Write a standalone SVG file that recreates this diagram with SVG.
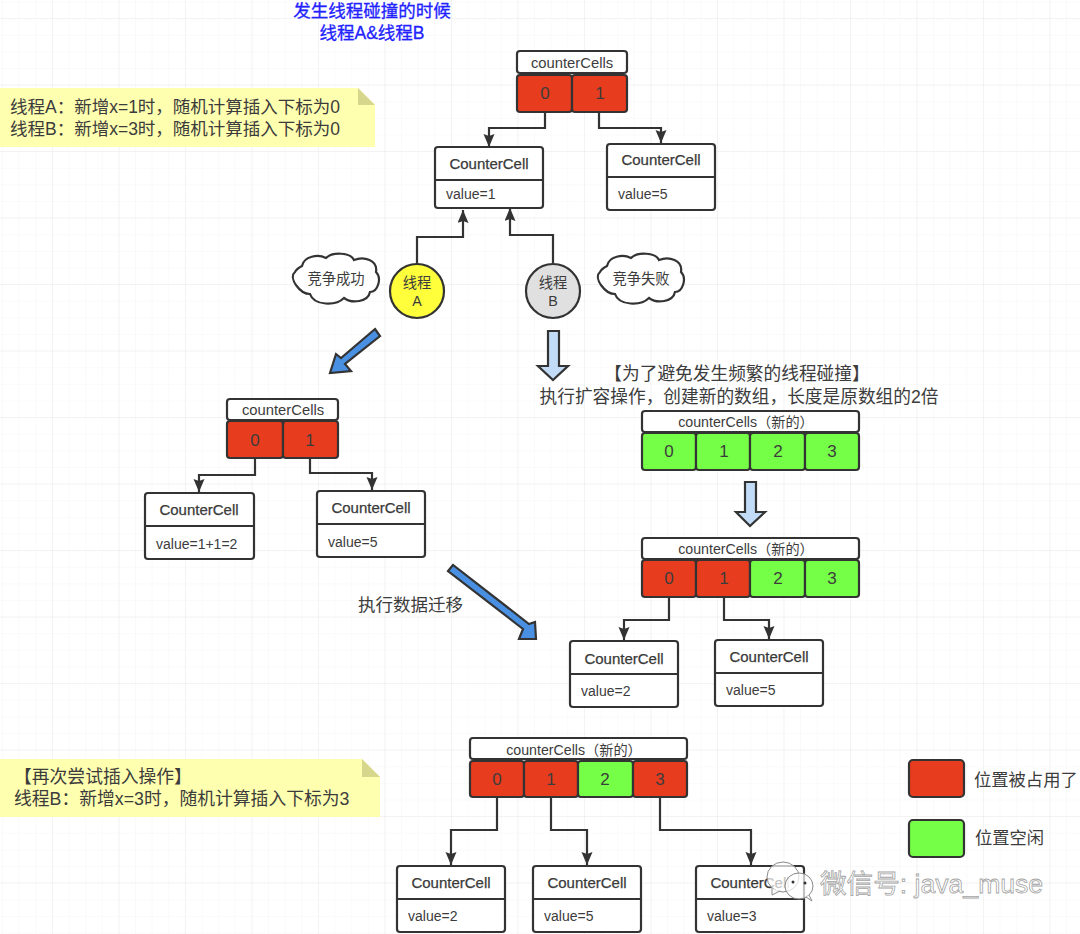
<svg xmlns="http://www.w3.org/2000/svg" width="1080" height="934" viewBox="0 0 1080 934">
<style>
text{font-family:"Liberation Sans","Noto Sans CJK SC",sans-serif;fill:#3c3c3c}
.t{text-anchor:middle}
.box{fill:#fff;stroke:#333;stroke-width:2.2}
.red{fill:#e83c1f;stroke:#333;stroke-width:2.2}
.grn{fill:#76ff47;stroke:#333;stroke-width:2.2}
.hdr{font-size:14.8px;text-anchor:middle}
.hdn{font-size:14.2px;text-anchor:middle}
.num{font-size:17px;text-anchor:middle}
.cc{font-size:15px;text-anchor:middle;stroke:#333;stroke-width:.25}
.val{font-size:14px}
.conn{fill:none;stroke:#333;stroke-width:2.2;marker-end:url(#ah)}
.note{fill:#ffffb0}
.fold{fill:#d6d68c}
.nt{font-size:17.5px}
.nt2{font-size:17.8px}
.big{font-size:17.7px}
.lite{fill:#c2dcf7;stroke:#333;stroke-width:2.2}
.blue{fill:#4a90e2;stroke:#333;stroke-width:2.2}
.cloud{fill:#fff;stroke:#333;stroke-width:2.2}
.wm{font-size:26.6px;fill:#fff;fill-opacity:.75;stroke:#8a8a8a;stroke-width:.8;stroke-opacity:.8}
.wi{fill:#fff;fill-opacity:.7;stroke:#8a8a8a;stroke-width:1}
</style>
<defs>
<pattern id="g1" width="16.625" height="16.625" patternUnits="userSpaceOnUse" x="3" y="2.5"><path d="M16.625 0V16.625M0 16.625H16.625" fill="none" stroke="#f5f5f5" stroke-width="1"/></pattern>
<pattern id="g2" width="66.5" height="66.5" patternUnits="userSpaceOnUse" x="-13.5" y="-47.5"><path d="M66.5 0V66.5M0 66.5H66.5" fill="none" stroke="#ececec" stroke-width="1"/></pattern>
<marker id="ah" markerUnits="userSpaceOnUse" markerWidth="14" markerHeight="12" refX="13" refY="5.5" orient="auto"><path d="M0 0L13 5.5L0 11L2 5.5Z" fill="#333"/></marker>
<path id="cl" d="M10 14C12 4 26 2 34 6C40 0 58 0 62 8C72 4 86 8 84 20C90 26 86 40 78 40C76 50 60 52 52 46C44 54 22 54 18 42C8 42-4 26 3 20C4 18 6 16 10 14Z"/>
</defs>
<rect width="1080" height="934" fill="#fff"/>
<rect width="1080" height="934" fill="url(#g1)"/>
<rect width="1080" height="934" fill="url(#g2)"/>

<g id="title"><text class="t" x="372" y="17" font-size="17.5" style="fill:#2222ff;stroke:#2222ff;stroke-width:.3">发生线程碰撞的时候</text>
<text class="t" x="372" y="39" font-size="17.5" style="fill:#2222ff;stroke:#2222ff;stroke-width:.3">线程A&amp;线程B</text></g>

<g id="connectors">
<path class="conn" d="M545 112V128H489V147"/>
<path class="conn" d="M599 112V128H661V143"/>
<path class="conn" d="M417 265V237H463V210"/>
<path class="conn" d="M553 263V235H510V208"/>
<path class="conn" d="M255 458V475H199V492"/>
<path class="conn" d="M310 458V473H372V490"/>
<path class="conn" d="M669 597V620H624V640"/>
<path class="conn" d="M724 597V620H769V639"/>
<path class="conn" d="M497 797V830H451V865"/>
<path class="conn" d="M551 797V830H587V865"/>
<path class="conn" d="M660 797V830H751V865"/>
</g>

<g id="note1"><path class="note" d="M0 88H358L375 105V147H0Z"/><path class="fold" d="M358 88L375 105H358Z"/>
<text class="nt" x="10" y="113">线程A：新增x=1时，随机计算插入下标为0</text>
<text class="nt" x="10" y="135">线程B：新增x=3时，随机计算插入下标为0</text></g>

<g id="array1"><rect class="box" x="517" y="51" width="110" height="22" rx="3"/><text class="hdr" x="572" y="68">counterCells</text>
<rect class="red" x="517" y="75" width="55" height="37" rx="3"/><rect class="red" x="572" y="75" width="55" height="37" rx="3"/>
<text class="num" x="545" y="99">0</text><text class="num" x="600" y="99">1</text></g>

<g id="cell1"><rect class="box" x="435" y="147" width="108" height="61" rx="3"/><path class="box" d="M435 180H543"/><text class="cc" x="489" y="169">CounterCell</text><text class="val" x="446" y="199">value=1</text></g>
<g id="cell2"><rect class="box" x="607" y="144" width="108" height="66" rx="3"/><path class="box" d="M607 177H715"/><text class="cc" x="661" y="165">CounterCell</text><text class="val" x="618" y="199">value=5</text></g>

<g id="cloud1"><use href="#cl" class="cloud" x="292" y="252"/><text class="t" x="336" y="284" font-size="14.3">竞争成功</text></g>
<g id="cloud2"><use href="#cl" class="cloud" x="597" y="252"/><text class="t" x="641" y="284" font-size="14.3">竞争失败</text></g>

<g id="threadA"><circle cx="417" cy="291" r="27" fill="#ffff3c" stroke="#333" stroke-width="2.2"/><text class="t" x="417" y="288" font-size="14.3">线程</text><text class="t" x="417" y="306" font-size="14.3">A</text></g>
<g id="threadB"><circle cx="553" cy="291" r="27" fill="#e0e0e0" stroke="#333" stroke-width="2.2"/><text class="t" x="553" y="288" font-size="14.3">线程</text><text class="t" x="553" y="306" font-size="14.3">B</text></g>

<g id="arrowBlue1"><path class="blue" d="M375 329L380 336L345 364L351 371L330 373L336 354L341 358Z"/></g>
<g id="arrowDown1"><path class="lite" d="M548 331H559V366H568L553 380L538 366H548Z"/></g>

<g id="textExpand"><text class="big t" x="737" y="380">【为了避免发生频繁的线程碰撞】</text>
<text class="big t" x="739" y="402.5">执行扩容操作，创建新的数组，长度是原数组的2倍</text></g>

<g id="array2"><rect class="box" x="227" y="399" width="111" height="21" rx="3"/><text class="hdr" x="283" y="415">counterCells</text>
<rect class="red" x="227" y="421" width="56" height="37" rx="3"/><rect class="red" x="283" y="421" width="55" height="37" rx="3"/>
<text class="num" x="255" y="446">0</text><text class="num" x="310" y="446">1</text></g>
<g id="cell3"><rect class="box" x="145" y="493" width="109" height="66" rx="3"/><path class="box" d="M145 526H254"/><text class="cc" x="199" y="515">CounterCell</text><text class="val" x="156" y="549">value=1+1=2</text></g>
<g id="cell4"><rect class="box" x="317" y="491" width="108" height="66" rx="3"/><path class="box" d="M317 524H425"/><text class="cc" x="371" y="513">CounterCell</text><text class="val" x="328" y="547">value=5</text></g>

<g id="array3"><rect class="box" x="642" y="411" width="217" height="21" rx="3"/><text class="hdn" x="746" y="427">counterCells（新的）</text>
<rect class="grn" x="642" y="433" width="54" height="37" rx="3"/><rect class="grn" x="696" y="433" width="54" height="37" rx="3"/><rect class="grn" x="750" y="433" width="55" height="37" rx="3"/><rect class="grn" x="805" y="433" width="54" height="37" rx="3"/>
<text class="num" x="669" y="457">0</text><text class="num" x="724" y="457">1</text><text class="num" x="778" y="457">2</text><text class="num" x="832" y="457">3</text></g>

<g id="arrowDown2"><path class="lite" d="M745 482H756V512H765L750 526L736 512H745Z"/></g>

<g id="array4"><rect class="box" x="642" y="538" width="217" height="21" rx="3"/><text class="hdn" x="746" y="554">counterCells（新的）</text>
<rect class="red" x="642" y="560" width="54" height="37" rx="3"/><rect class="red" x="696" y="560" width="54" height="37" rx="3"/><rect class="grn" x="750" y="560" width="55" height="37" rx="3"/><rect class="grn" x="805" y="560" width="54" height="37" rx="3"/>
<text class="num" x="669" y="584">0</text><text class="num" x="724" y="584">1</text><text class="num" x="778" y="584">2</text><text class="num" x="832" y="584">3</text></g>
<g id="cell5"><rect class="box" x="570" y="641" width="108" height="66" rx="3"/><path class="box" d="M570 674H678"/><text class="cc" x="624" y="664">CounterCell</text><text class="val" x="581" y="696">value=2</text></g>
<g id="cell6"><rect class="box" x="715" y="640" width="108" height="66" rx="3"/><path class="box" d="M715 673H823"/><text class="cc" x="769" y="662">CounterCell</text><text class="val" x="726" y="695">value=5</text></g>

<g id="arrowBlue2"><path class="blue" d="M453 565L448 571L523 629L519 639L536 639L535 622L529 624Z"/></g>
<text x="358" y="611" font-size="17.5">执行数据迁移</text>

<g id="note2"><path class="note" d="M0 759H362L380 777V817H0Z"/><path class="fold" d="M362 759L380 777H362Z"/>
<text class="nt2" x="14" y="783">【再次尝试插入操作】</text>
<text class="nt2" x="14" y="805">线程B：新增x=3时，随机计算插入下标为3</text></g>

<g id="array5"><rect class="box" x="470" y="738" width="217" height="21" rx="3"/><text class="hdn" x="574" y="755">counterCells（新的）</text>
<rect class="red" x="470" y="761" width="54" height="36" rx="3"/><rect class="red" x="524" y="761" width="54" height="36" rx="3"/><rect class="grn" x="578" y="761" width="55" height="36" rx="3"/><rect class="red" x="633" y="761" width="54" height="36" rx="3"/>
<text class="num" x="497" y="785">0</text><text class="num" x="551" y="785">1</text><text class="num" x="605" y="785">2</text><text class="num" x="660" y="785">3</text></g>
<g id="cell7"><rect class="box" x="397" y="866" width="108" height="66" rx="3"/><path class="box" d="M397 899H505"/><text class="cc" x="451" y="888">CounterCell</text><text class="val" x="408" y="921">value=2</text></g>
<g id="cell8"><rect class="box" x="533" y="866" width="108" height="66" rx="3"/><path class="box" d="M533 899H641"/><text class="cc" x="587" y="888">CounterCell</text><text class="val" x="544" y="921">value=5</text></g>
<g id="cell9"><rect class="box" x="696" y="866" width="108" height="66" rx="3"/><path class="box" d="M696 899H804"/><text class="cc" x="750" y="888">CounterCell</text><text class="val" x="707" y="921">value=3</text></g>

<g id="legendRed"><rect class="red" x="909" y="760" width="55" height="37" rx="4"/><text x="974" y="786" font-size="17.3">位置被占用了</text></g>
<g id="legendGreen"><rect class="grn" x="909" y="820" width="55" height="37" rx="4"/><text x="975" y="844" font-size="17.3">位置空闲</text></g>

<g id="watermark">
<ellipse class="wi" cx="783" cy="877" rx="16" ry="15"/><path class="wi" d="M772 888L772 895L780 891"/>
<ellipse class="wi" cx="799" cy="886" rx="14" ry="13"/><path class="wi" d="M806 897L812 901L809 895"/>
<circle cx="793" cy="882" r="1.5" fill="#333"/><circle cx="805" cy="883" r="1.5" fill="#333"/>
<text class="wm" x="820" y="893">微信号: java_muse</text></g>
</svg>
